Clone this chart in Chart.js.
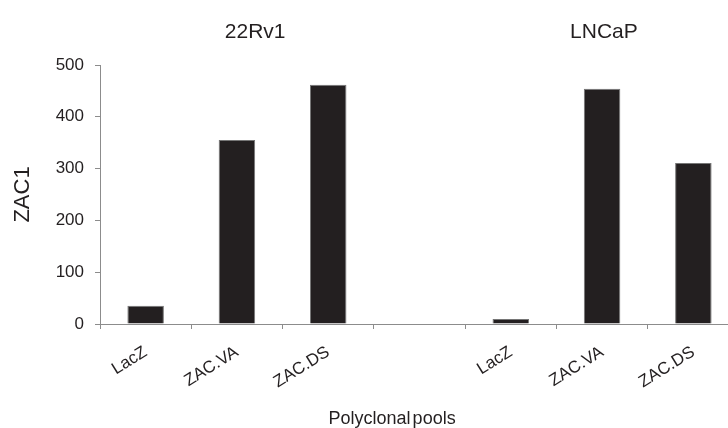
<!DOCTYPE html>
<html>
<head>
<meta charset="utf-8">
<script src="https://cdn.jsdelivr.net/npm/chart.js@4/dist/chart.umd.min.js"></script>
<style>
  html, body { margin: 0; padding: 0; background: #ffffff; overflow: hidden; }
  #wrap { width: 760px; height: 428px; }
</style>
</head>
<body>
<div id="wrap"><canvas id="c" width="760" height="428"></canvas></div>
<script>
// Polyclonal pools per cell line; the empty slot separates the two lines.
const categories = ['LacZ', 'ZAC.VA', 'ZAC.DS', '', 'LacZ', 'ZAC.VA', 'ZAC.DS'];
const zac1Values = [35, 355, 462, null, 9.6, 454, 311];
const yTicks = [0, 100, 200, 300, 400, 500];
const cellLines = ['22Rv1', 'LNCaP'];
const xTitle = 'Polyclonal pools';
const yTitle = 'ZAC1';

const FONT = "'Liberation Sans', Arial, sans-serif";
const INK = '#231f20';
const AXIS = '#8c8c8c';

// Cell-line headings above each group and the x-axis caption
const headings = {
  id: 'headings',
  afterDraw(chart) {
    const ctx = chart.ctx;
    const x = chart.scales.x;
    ctx.save();
    ctx.fillStyle = INK;
    ctx.textAlign = 'center';
    ctx.textBaseline = 'alphabetic';
    ctx.font = '21px ' + FONT;
    ctx.fillText(cellLines[0], x.getPixelForValue(1.2), 38);
    ctx.fillText(cellLines[1], x.getPixelForValue(5.02), 38);
    ctx.font = '18px ' + FONT;
    if ('wordSpacing' in ctx) ctx.wordSpacing = '-3px';
    ctx.fillText(xTitle, x.getPixelForValue(2.7), 424);
    ctx.restore();
  }
};

new Chart(document.getElementById('c'), {
  type: 'bar',
  data: {
    labels: categories,
    datasets: [{
      data: zac1Values,
      backgroundColor: INK,
      borderColor: '#767676',
      borderWidth: 1,
      barPercentage: 0.4,
      categoryPercentage: 1.0
    }]
  },
  options: {
    responsive: false,
    animation: false,
    devicePixelRatio: 1,
    layout: { padding: { left: 0, right: 21, top: 65, bottom: 0 } },
    plugins: { legend: { display: false }, tooltip: { enabled: false } },
    scales: {
      x: {
        offset: true,
        grid: { display: true, drawOnChartArea: false, offset: true, tickLength: 5, color: AXIS },
        border: { color: AXIS, width: 1 },
        ticks: {
          color: INK,
          font: { family: FONT, size: 17 },
          minRotation: 32,
          maxRotation: 32,
          autoSkip: false,
          padding: 13
        },
        afterFit(scale) { scale.height = 104; }
      },
      y: {
        min: 0,
        max: 500,
        afterBuildTicks(scale) { scale.ticks = yTicks.map(v => ({ value: v })); },
        grid: { display: true, drawOnChartArea: false, tickLength: 5, color: AXIS },
        border: { color: AXIS, width: 1 },
        ticks: {
          color: INK,
          font: { family: FONT, size: 17 },
          padding: 11
        },
        title: {
          display: true,
          text: yTitle,
          color: INK,
          font: { family: FONT, size: 22 },
          padding: { top: 10, bottom: 0 }
        },
        afterFit(scale) { scale.width = 100; }
      }
    }
  },
  plugins: [headings]
});
</script>
</body>
</html>
